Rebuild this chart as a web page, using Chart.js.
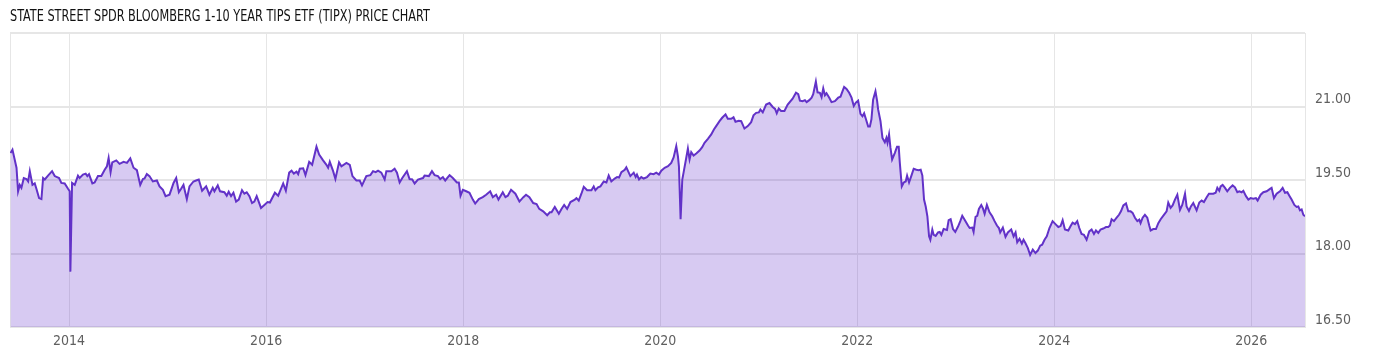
<!DOCTYPE html>
<html>
<head>
<meta charset="utf-8">
<script src="https://cdn.jsdelivr.net/npm/chart.js@4.4.1/dist/chart.umd.min.js"></script>
<style>
    html, body { margin: 0; padding: 0; background: #fff; }
    #wrap { position: relative; width: 1400px; height: 357px; }
    #title {
        position: absolute; left: 10px; top: 6px;
        font-family: 'DejaVu Sans Condensed', 'Liberation Sans Narrow', Roboto, sans-serif;
        font-size: 16px; color: #111; white-space: nowrap;
        transform-origin: left top;
    }
    canvas { position: absolute; left: 0; top: 0; }
</style>
</head>
<body>
<div id="wrap">
    <canvas id="priceChart" width="1400" height="357"></canvas>
    <div id="title">STATE STREET SPDR BLOOMBERG 1-10 YEAR TIPS ETF (TIPX) PRICE CHART</div>
</div>
<script>
// dates are decimal years, prices in USD
const dates2013 = [2013.405, 2013.425, 2013.466, 2013.482, 2013.499, 2013.516, 2013.540, 2013.567, 2013.584, 2013.601, 2013.628, 2013.651, 2013.668, 2013.695, 2013.719, 2013.736, 2013.753, 2013.786, 2013.827, 2013.854, 2013.898, 2013.921, 2013.955, 2013.989, 2014.006, 2014.013, 2014.030, 2014.057, 2014.090, 2014.107, 2014.141, 2014.168, 2014.185, 2014.202, 2014.236, 2014.259, 2014.293, 2014.327, 2014.361, 2014.384, 2014.401, 2014.421, 2014.438, 2014.479, 2014.512, 2014.553, 2014.587, 2014.621, 2014.654, 2014.688, 2014.722, 2014.749, 2014.766, 2014.789, 2014.816, 2014.850, 2014.891, 2014.918, 2014.952, 2014.979, 2015.019, 2015.043, 2015.060, 2015.087, 2015.114, 2015.137, 2015.161, 2015.195, 2015.222, 2015.262, 2015.289, 2015.316, 2015.350, 2015.391, 2015.424, 2015.458, 2015.475, 2015.509, 2015.532, 2015.576, 2015.600, 2015.620, 2015.644, 2015.668, 2015.695, 2015.722, 2015.755, 2015.779, 2015.803, 2015.830, 2015.857, 2015.880, 2015.904, 2015.948, 2015.982, 2016.015];
const prices2013 = [20.05, 20.12, 19.75, 19.27, 19.40, 19.34, 19.54, 19.52, 19.47, 19.68, 19.40, 19.43, 19.32, 19.13, 19.11, 19.54, 19.51, 19.59, 19.68, 19.58, 19.54, 19.44, 19.43, 19.32, 19.27, 17.63, 19.44, 19.40, 19.59, 19.54, 19.61, 19.63, 19.58, 19.62, 19.43, 19.45, 19.58, 19.58, 19.71, 19.78, 19.95, 19.66, 19.86, 19.90, 19.83, 19.87, 19.85, 19.94, 19.75, 19.70, 19.40, 19.52, 19.53, 19.62, 19.58, 19.47, 19.49, 19.37, 19.30, 19.17, 19.20, 19.34, 19.44, 19.54, 19.25, 19.32, 19.40, 19.11, 19.37, 19.47, 19.49, 19.51, 19.28, 19.37, 19.20, 19.34, 19.27, 19.39, 19.27, 19.25, 19.18, 19.26, 19.17, 19.24, 19.06, 19.10, 19.29, 19.22, 19.25, 19.17, 19.03, 19.06, 19.17, 18.93, 18.99, 19.05];

const dates2016 = [2016.038, 2016.089, 2016.122, 2016.173, 2016.200, 2016.234, 2016.258, 2016.281, 2016.308, 2016.325, 2016.342, 2016.376, 2016.399, 2016.437, 2016.467, 2016.511, 2016.538, 2016.578, 2016.612, 2016.629, 2016.646, 2016.680, 2016.703, 2016.740, 2016.764, 2016.815, 2016.849, 2016.876, 2016.916, 2016.950, 2016.973, 2017.017, 2017.058, 2017.085, 2017.112, 2017.136, 2017.169, 2017.203, 2017.220, 2017.271, 2017.304, 2017.328, 2017.355, 2017.382, 2017.429, 2017.456, 2017.483, 2017.507, 2017.541, 2017.592, 2017.608, 2017.652, 2017.683, 2017.710, 2017.744, 2017.767, 2017.794, 2017.818, 2017.862, 2017.895, 2017.936, 2017.956, 2017.973, 2017.997, 2018.031, 2018.064, 2018.098, 2018.122, 2018.159, 2018.199, 2018.233, 2018.274, 2018.301, 2018.335, 2018.358, 2018.402, 2018.429, 2018.453, 2018.486, 2018.530, 2018.571, 2018.611, 2018.638, 2018.672];
const prices2016 = [19.04, 19.24, 19.18, 19.43, 19.28, 19.65, 19.69, 19.63, 19.67, 19.62, 19.73, 19.74, 19.60, 19.87, 19.81, 20.18, 20.02, 19.90, 19.81, 19.75, 19.87, 19.68, 19.52, 19.86, 19.78, 19.85, 19.81, 19.58, 19.49, 19.49, 19.39, 19.58, 19.60, 19.68, 19.66, 19.69, 19.65, 19.51, 19.68, 19.68, 19.73, 19.65, 19.45, 19.54, 19.68, 19.52, 19.51, 19.43, 19.51, 19.54, 19.59, 19.58, 19.68, 19.60, 19.58, 19.52, 19.56, 19.49, 19.60, 19.54, 19.45, 19.45, 19.18, 19.30, 19.27, 19.24, 19.10, 19.02, 19.11, 19.15, 19.20, 19.27, 19.15, 19.20, 19.10, 19.25, 19.15, 19.18, 19.30, 19.22, 19.06, 19.15, 19.20, 19.15];

const dates2018 = [2018.711, 2018.745, 2018.772, 2018.812, 2018.853, 2018.880, 2018.897, 2018.930, 2018.971, 2018.998, 2019.025, 2019.055, 2019.089, 2019.133, 2019.150, 2019.173, 2019.200, 2019.224, 2019.258, 2019.302, 2019.325, 2019.342, 2019.369, 2019.393, 2019.427, 2019.454, 2019.477, 2019.504, 2019.538, 2019.562, 2019.582, 2019.606, 2019.640, 2019.656, 2019.697, 2019.731, 2019.751, 2019.764, 2019.785, 2019.808, 2019.832, 2019.866, 2019.900, 2019.933, 2019.960, 2019.987, 2020.011, 2020.045, 2020.079, 2020.112, 2020.136, 2020.163, 2020.180, 2020.190, 2020.207, 2020.224, 2020.237, 2020.264, 2020.281, 2020.298, 2020.315, 2020.339, 2020.366, 2020.399, 2020.426, 2020.450, 2020.484, 2020.518, 2020.545, 2020.568, 2020.602, 2020.629, 2020.663, 2020.686, 2020.720, 2020.744, 2020.764, 2020.798, 2020.822, 2020.855, 2020.889, 2020.923, 2020.947, 2020.974, 2021.001, 2021.017, 2021.041, 2021.075, 2021.109, 2021.142, 2021.166, 2021.183, 2021.203, 2021.227, 2021.261, 2021.294];
const prices2018 = [19.03, 19.01, 18.91, 18.86, 18.78, 18.84, 18.84, 18.95, 18.81, 18.91, 18.99, 18.91, 19.05, 19.10, 19.13, 19.08, 19.22, 19.36, 19.29, 19.29, 19.37, 19.29, 19.35, 19.37, 19.47, 19.45, 19.59, 19.47, 19.53, 19.56, 19.55, 19.66, 19.71, 19.76, 19.58, 19.65, 19.56, 19.61, 19.51, 19.56, 19.53, 19.56, 19.63, 19.62, 19.65, 19.61, 19.69, 19.75, 19.78, 19.85, 19.96, 20.19, 19.98, 19.78, 18.70, 19.51, 19.65, 19.95, 20.14, 19.92, 20.07, 20.00, 20.04, 20.10, 20.17, 20.26, 20.34, 20.43, 20.53, 20.60, 20.70, 20.77, 20.84, 20.75, 20.75, 20.78, 20.69, 20.71, 20.70, 20.55, 20.60, 20.68, 20.82, 20.87, 20.88, 20.94, 20.88, 21.04, 21.07, 20.99, 20.95, 20.86, 20.96, 20.91, 20.91, 21.04];

const dates2021 = [2021.344, 2021.378, 2021.401, 2021.418, 2021.445, 2021.469, 2021.486, 2021.513, 2021.537, 2021.553, 2021.580, 2021.597, 2021.621, 2021.638, 2021.655, 2021.672, 2021.688, 2021.716, 2021.739, 2021.773, 2021.807, 2021.830, 2021.867, 2021.891, 2021.918, 2021.942, 2021.965, 2021.986, 2022.009, 2022.033, 2022.053, 2022.070, 2022.087, 2022.111, 2022.128, 2022.144, 2022.161, 2022.185, 2022.202, 2022.212, 2022.236, 2022.256, 2022.280, 2022.296, 2022.307, 2022.323, 2022.337, 2022.354, 2022.381, 2022.404, 2022.421, 2022.431, 2022.452, 2022.472, 2022.492, 2022.506, 2022.526, 2022.550, 2022.573, 2022.600, 2022.624, 2022.644, 2022.661, 2022.678, 2022.695, 2022.712, 2022.729, 2022.742, 2022.762, 2022.776, 2022.796, 2022.820, 2022.837, 2022.854, 2022.877, 2022.911, 2022.928, 2022.948, 2022.972, 2022.995, 2023.023, 2023.046, 2023.066, 2023.090, 2023.124, 2023.141, 2023.168, 2023.181, 2023.201, 2023.218, 2023.235, 2023.259, 2023.276, 2023.293, 2023.316, 2023.343, 2023.370, 2023.394, 2023.418, 2023.438, 2023.451, 2023.478, 2023.505, 2023.529, 2023.563, 2023.587, 2023.607, 2023.624, 2023.647, 2023.671, 2023.688, 2023.708, 2023.732, 2023.755, 2023.782, 2023.809, 2023.833, 2023.857, 2023.877, 2023.901, 2023.924, 2023.951];
const prices2021 = [21.16, 21.28, 21.25, 21.12, 21.11, 21.13, 21.09, 21.13, 21.18, 21.25, 21.51, 21.29, 21.28, 21.19, 21.37, 21.23, 21.27, 21.18, 21.09, 21.11, 21.18, 21.20, 21.40, 21.36, 21.28, 21.18, 21.01, 21.08, 21.12, 20.85, 20.80, 20.86, 20.75, 20.59, 20.59, 20.74, 21.14, 21.31, 21.11, 20.94, 20.70, 20.36, 20.27, 20.36, 20.26, 20.43, 20.16, 19.92, 20.05, 20.18, 20.18, 19.88, 19.37, 19.45, 19.47, 19.59, 19.45, 19.59, 19.73, 19.71, 19.70, 19.71, 19.59, 19.10, 18.96, 18.76, 18.35, 18.28, 18.49, 18.38, 18.36, 18.43, 18.44, 18.38, 18.50, 18.48, 18.68, 18.70, 18.50, 18.44, 18.55, 18.66, 18.77, 18.69, 18.57, 18.52, 18.53, 18.44, 18.75, 18.77, 18.91, 18.99, 18.92, 18.81, 18.99, 18.84, 18.76, 18.66, 18.57, 18.52, 18.43, 18.53, 18.34, 18.43, 18.49, 18.35, 18.43, 18.23, 18.30, 18.20, 18.28, 18.21, 18.11, 17.97, 18.08, 18.01, 18.06, 18.16, 18.18, 18.28, 18.35, 18.52];

const dates2024 = [2023.983, 2024.017, 2024.041, 2024.064, 2024.085, 2024.108, 2024.142, 2024.166, 2024.186, 2024.210, 2024.233, 2024.254, 2024.277, 2024.301, 2024.328, 2024.355, 2024.379, 2024.403, 2024.423, 2024.447, 2024.470, 2024.497, 2024.525, 2024.548, 2024.565, 2024.582, 2024.606, 2024.633, 2024.657, 2024.677, 2024.701, 2024.728, 2024.751, 2024.775, 2024.795, 2024.819, 2024.843, 2024.863, 2024.876, 2024.897, 2024.920, 2024.944, 2024.964, 2024.978, 2025.005, 2025.032, 2025.056, 2025.080, 2025.113, 2025.140, 2025.157, 2025.181, 2025.201, 2025.225, 2025.249, 2025.276, 2025.299, 2025.327, 2025.343, 2025.367, 2025.387, 2025.411, 2025.445, 2025.472, 2025.496, 2025.519, 2025.547, 2025.570, 2025.614, 2025.638, 2025.655, 2025.675, 2025.689, 2025.709, 2025.733, 2025.756, 2025.783, 2025.810, 2025.834, 2025.858, 2025.878, 2025.902, 2025.919, 2025.946, 2025.970, 2025.993, 2026.020, 2026.047, 2026.064, 2026.095, 2026.122, 2026.156, 2026.190, 2026.206, 2026.230, 2026.257, 2026.291, 2026.318, 2026.342, 2026.366, 2026.386, 2026.409, 2026.437, 2026.460, 2026.477, 2026.494, 2026.511, 2026.528, 2026.545];
const prices2024 = [18.66, 18.59, 18.54, 18.56, 18.68, 18.49, 18.47, 18.56, 18.63, 18.60, 18.66, 18.52, 18.40, 18.38, 18.28, 18.45, 18.49, 18.40, 18.47, 18.42, 18.49, 18.51, 18.54, 18.54, 18.57, 18.70, 18.66, 18.73, 18.79, 18.86, 18.98, 19.02, 18.86, 18.86, 18.83, 18.73, 18.66, 18.69, 18.62, 18.73, 18.79, 18.73, 18.57, 18.47, 18.50, 18.50, 18.62, 18.70, 18.79, 18.86, 19.04, 18.93, 18.98, 19.10, 19.20, 18.89, 18.99, 19.22, 18.96, 18.87, 18.96, 19.03, 18.88, 19.04, 19.08, 19.05, 19.15, 19.22, 19.22, 19.24, 19.34, 19.28, 19.37, 19.40, 19.34, 19.27, 19.34, 19.39, 19.35, 19.25, 19.27, 19.25, 19.28, 19.17, 19.10, 19.13, 19.12, 19.13, 19.08, 19.20, 19.25, 19.27, 19.32, 19.34, 19.13, 19.22, 19.27, 19.34, 19.24, 19.25, 19.18, 19.10, 18.99, 18.95, 18.96, 18.88, 18.90, 18.79, 18.76];

const yearTicks = [2014, 2016, 2018, 2020, 2022, 2024, 2026];
const priceTicks = [16.5, 18, 19.5, 21, 22.5];

const allDates = [].concat(dates2013, dates2016, dates2018, dates2021, dates2024);
const allPrices = [].concat(prices2013, prices2016, prices2018, prices2021, prices2024);
const points = allDates.map((d, i) => ({ x: d, y: allPrices[i] }));

const tickFont = { family: "'DejaVu Sans Condensed', 'Liberation Sans Narrow', Roboto, sans-serif", size: 14 };
const gridColor = '#e6e6e6';

// fit the title to the reference width
const title = document.getElementById('title');
title.style.transform = 'scaleX(' + (420 / title.scrollWidth) + ')';

// thin line on the left edge of the plot
const framePlugin = {
    id: 'frame',
    beforeDatasetsDraw(chart) {
        const a = chart.chartArea, c = chart.ctx;
        c.save();
        c.strokeStyle = gridColor;
        c.lineWidth = 1;
        c.beginPath();
        c.moveTo(a.left + 0.5, a.top);
        c.lineTo(a.left + 0.5, a.bottom);
        c.stroke();
        c.restore();
    }
};

new Chart(document.getElementById('priceChart').getContext('2d'), {
    type: 'line',
    data: {
        datasets: [{
            data: points,
            borderColor: '#6232c8',
            backgroundColor: 'rgba(102, 51, 204, 0.26)',
            borderWidth: 2,
            fill: 'start',
            pointRadius: 0,
            tension: 0
        }]
    },
    options: {
        responsive: false,
        animation: false,
        layout: { padding: { top: 33, left: 10, right: 0, bottom: 0 } },
        plugins: { legend: { display: false }, tooltip: { enabled: false } },
        scales: {
            x: {
                type: 'linear',
                min: 2013.40,
                max: 2026.545,
                afterBuildTicks: s => { s.ticks = yearTicks.map(v => ({ value: v })); },
                afterFit: s => { s.height = 30; },
                grid: { color: gridColor, drawTicks: false },
                border: { display: false },
                ticks: { font: tickFont, color: '#5f5f5f', padding: 6, maxRotation: 0, callback: v => String(v) }
            },
            y: {
                position: 'right',
                min: 16.5,
                max: 22.5,
                afterBuildTicks: s => { s.ticks = priceTicks.map(v => ({ value: v })); },
                afterFit: s => { s.width = 95; },
                grid: { color: gridColor, lineWidth: 2, drawTicks: false },
                border: { display: true, color: gridColor },
                ticks: {
                    font: tickFont, color: '#5f5f5f', padding: 10, labelOffset: -7,
                    callback: v => v === 22.5 ? '' : v.toFixed(2)
                }
            }
        }
    },
    plugins: [framePlugin]
});
</script>
</body>
</html>
